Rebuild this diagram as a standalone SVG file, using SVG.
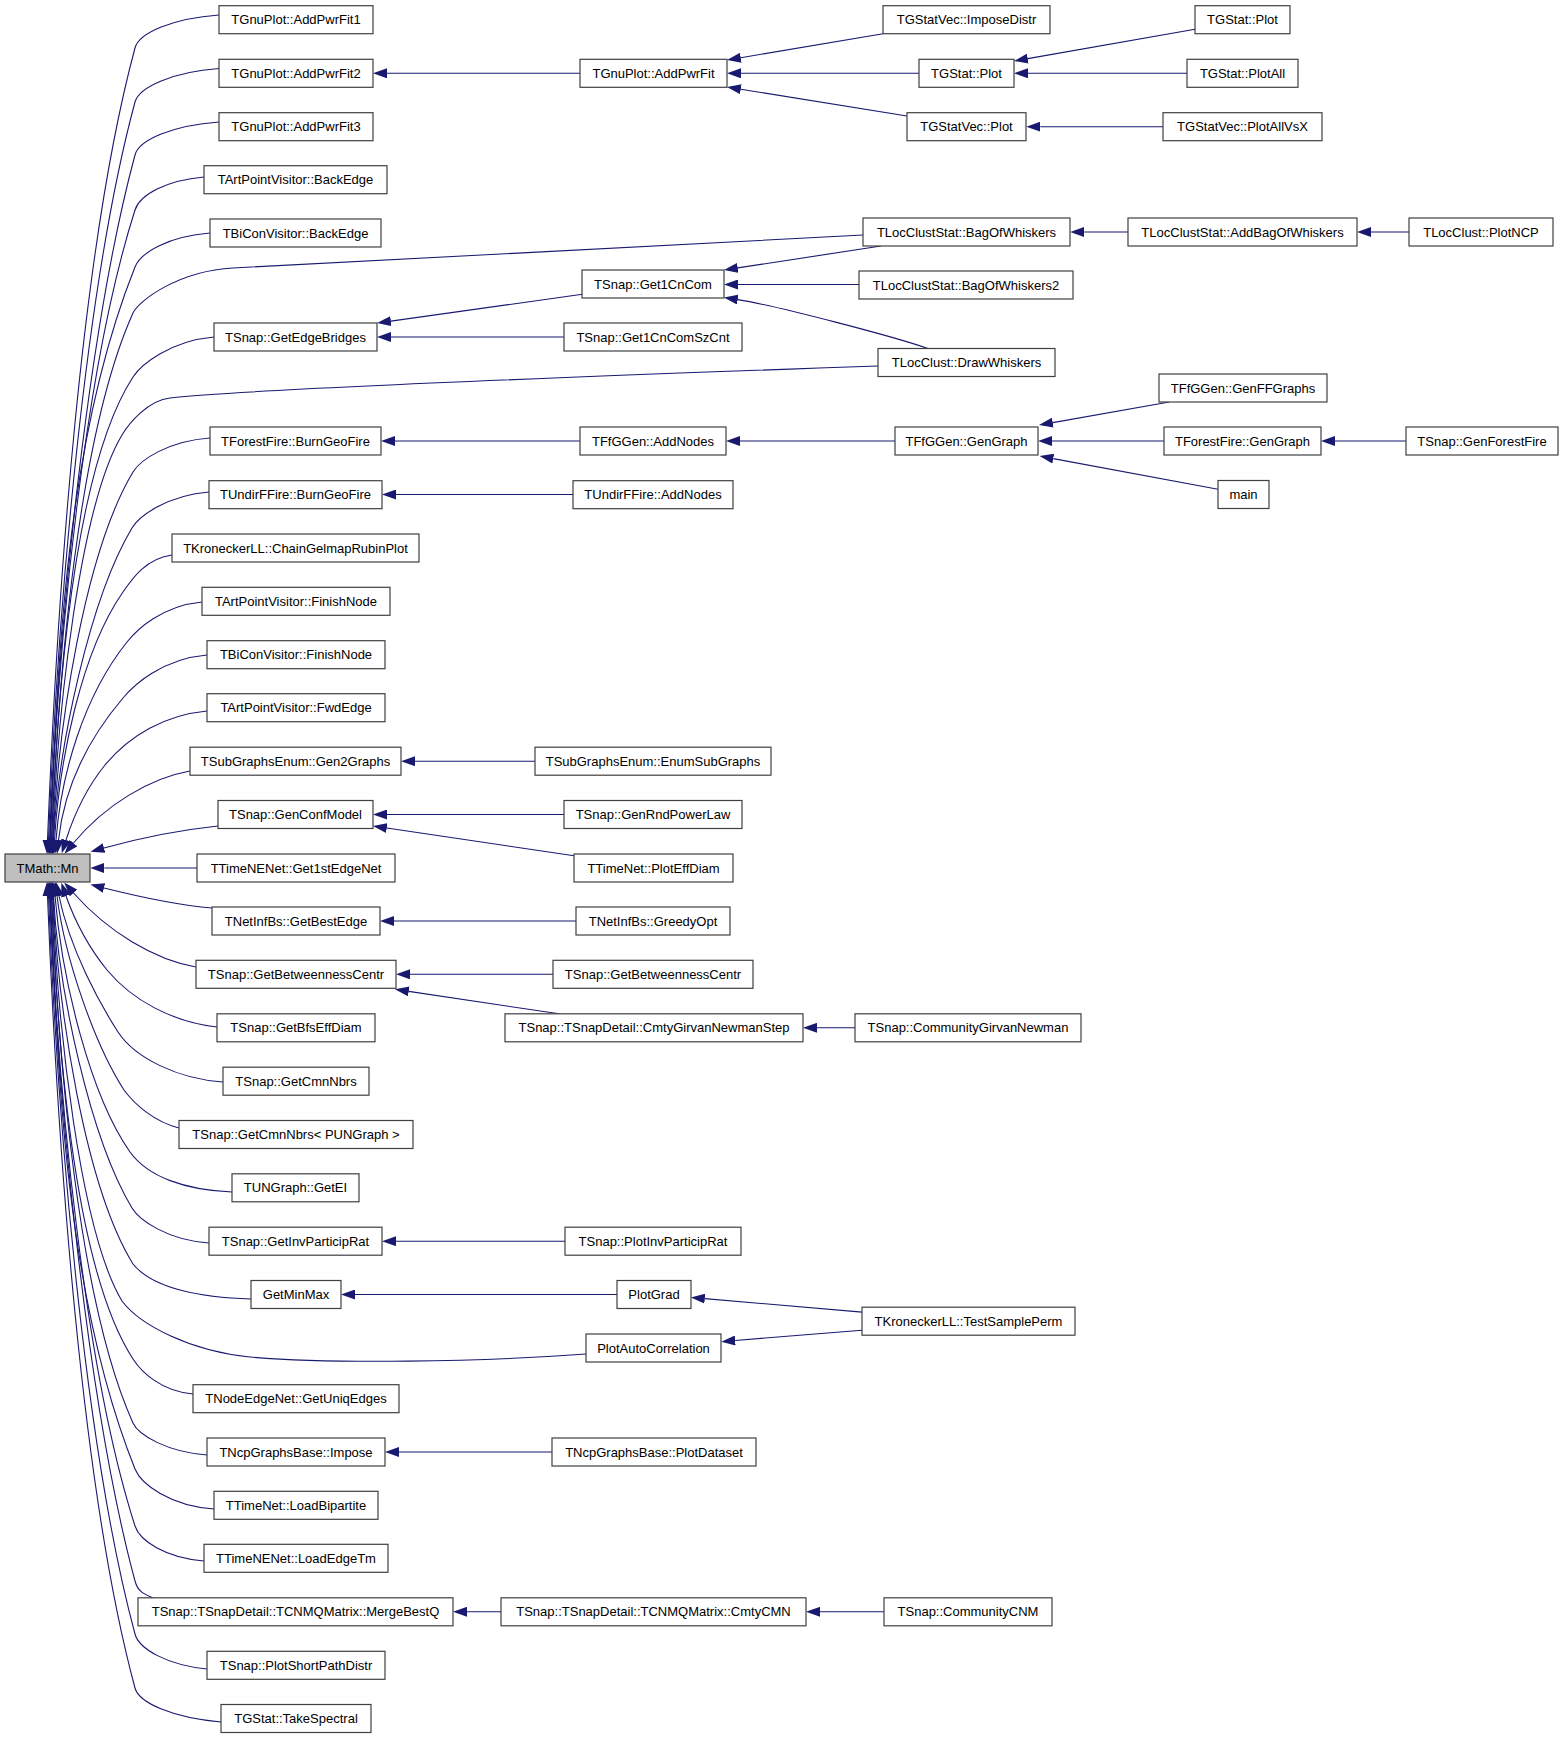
<svg xmlns="http://www.w3.org/2000/svg" width="1563" height="1739" viewBox="0 0 1563 1739">
<defs>
<style>
.node rect{fill:#ffffff;stroke:#404040;stroke-width:1.2}
.node text{font-family:"Liberation Sans",Arial,Helvetica,sans-serif;font-size:13px;text-anchor:middle;fill:#000000}
#n1 rect{fill:#bfbfbf}
.edges path{fill:none;stroke:#191970;stroke-width:1.1;marker-end:url(#arr)}
</style>
<marker id="arr" viewBox="0 0 14 10" refX="0" refY="5" markerWidth="14" markerHeight="10" markerUnits="userSpaceOnUse" orient="auto">
<path d="M0,0 L14,5 L0,10 Z" fill="#191970"/>
</marker>
</defs>
<rect x="0" y="0" width="1563" height="1739" fill="#ffffff"/>
<g class="edges">
<path d="M219,15 C172.8,18.3 139,33 135,48 C81.5,246 57.6,586.6 47.5,840"/>
<path d="M219,68.5 C172.8,71.9 139,87 135,102 C85.2,286.5 57.9,603.8 48.5,840"/>
<path d="M219,122 C172.8,125.3 139,140 135,155 C88.8,326.3 58.3,620.8 49.5,840"/>
<path d="M204,177 C166,180.3 139.8,195 135,210 C84.6,367.5 58.1,638.4 50,840"/>
<path d="M210,233 C168.8,236.4 141,252 135,267 C66.2,439 57.8,656.6 50.5,840"/>
<path d="M863,235 C700,244 420,258 233,268 C178,271 138.4,301 133,313 C79,433 58.5,670 51.5,840"/>
<path d="M214,337 C169.5,341 140.8,365 133,377 C74.5,467 57.5,690 51.5,840"/>
<path d="M878,366 C650,374 260,388 170,398 C148,400.4 129.2,423 122,435 C80,505 57.5,710 52.5,840"/>
<path d="M210,438 C168,441 140.2,460 133,472 C85,552 58,725 53,840"/>
<path d="M209,492 C167,495.5 139.2,516 132,528 C90,598 58.5,745 53.5,840"/>
<path d="M172,555 C145,558.7 131.4,580 123,592 C81,652 59.5,760 54.5,840"/>
<path d="M202,602 C161,606 136.6,630 127,642 C83,697 61,775 56,840"/>
<path d="M207,655 C161,659 133,686 123,698 C84.8,743 64,790 58.5,840"/>
<path d="M207,711 C165,715 130,735 105,765 C88,786 75,812 66,840"/>
<path d="M190,771 C150,778 105,805 73.5,843"/>
<path d="M218,826 C180,830 140,838 104,848"/>
<path d="M197,868 L104.3,868"/>
<path d="M212,908 C176,905 140,897 104,888"/>
<path d="M196,967 C155,960 108,932 73.5,893"/>
<path d="M217,1027 C172,1022 132,1000 107,970 C90,949 76,924 66,896"/>
<path d="M223,1082 C178,1079 135,1058 118,1032 C100,1004 70,950 59,896"/>
<path d="M179,1128 C155,1122 135,1105 124,1090 C95,1045 65,960 57,896"/>
<path d="M232,1192 C185,1190 148,1177 130,1152 C90,1095 62,980 55,896"/>
<path d="M209,1243 C167,1240 139.2,1220 132,1208 C90,1138 58.5,991 53.5,896"/>
<path d="M251,1299 C190,1297 150,1285 133,1264 C85,1186 58,1011 53,896"/>
<path d="M586,1354 C480,1362 330,1364 250,1357 C190,1351 140,1325 122,1301 C80,1231 57.5,1026 52.5,896"/>
<path d="M193,1394 C160,1391 140.8,1371 133,1359 C74.5,1269 57.5,1046 51.5,896"/>
<path d="M207,1455 C167,1452 138.4,1435 133,1423 C79,1303 58.5,1066 51.5,896"/>
<path d="M214,1509 C170,1506 141,1484 135,1469 C66.2,1297 57.8,1079.4 50.5,896"/>
<path d="M204,1561 C166,1558 139.8,1541 135,1526 C84.6,1368.5 58.1,1097.6 50,896"/>
<path d="M153,1598 C144,1594 138,1592 135,1581 C88.8,1409.7 58.3,1115.2 49.5,896"/>
<path d="M207,1669 C167,1665 139,1649 135,1634 C85.2,1449.5 57.9,1132.2 48.5,896"/>
<path d="M221,1722 C172.8,1717.7 139,1703 135,1688 C81.5,1490 57.6,1149.4 47.5,896"/>
<path d="M580,73.3 L387,73.3"/>
<path d="M883,33.7 L740.8,57.7"/>
<path d="M919,73.3 L741,73.3"/>
<path d="M907,116 L740.8,89.2"/>
<path d="M1195,29.3 L1027.8,58.6"/>
<path d="M1187,73.3 L1028,73.3"/>
<path d="M1163,126.7 L1040.3,126.7"/>
<path d="M1128,232 L1084.3,232"/>
<path d="M1409,232 L1371,232"/>
<path d="M881,246 L737.8,267.9"/>
<path d="M859,284.5 L738,284.5"/>
<path d="M928,348.5 C895,337 778,306 737.8,299.6"/>
<path d="M582.3,294.3 L390.9,321.1"/>
<path d="M564,337 L391,337"/>
<path d="M580,441 L395,441"/>
<path d="M895,441 L740,441"/>
<path d="M1169.3,402 L1052.8,422.6"/>
<path d="M1164,441 L1052,441"/>
<path d="M1218,489.3 L1053.3,458.6"/>
<path d="M1406,441 L1335,441"/>
<path d="M573,494.5 L396,494.5"/>
<path d="M535,761.2 L415,761.2"/>
<path d="M564,814.5 L387,814.5"/>
<path d="M574,855.7 L386.8,828"/>
<path d="M576,921 L394,921"/>
<path d="M553,974.3 L410,974.3"/>
<path d="M559,1013.8 L408.8,991.4"/>
<path d="M855,1027.8 L817,1027.8"/>
<path d="M565,1241.2 L396,1241.2"/>
<path d="M617,1294.5 L355,1294.5"/>
<path d="M862,1312.1 L704.8,1298.6"/>
<path d="M862,1330.2 L735.2,1340.5"/>
<path d="M552,1452 L399,1452"/>
<path d="M501,1611.8 L467,1611.8"/>
<path d="M884,1611.8 L820,1611.8"/>
</g>
<g id="n1" class="node"><rect x="5" y="854" width="85" height="28"/><text x="47.5" y="872.5">TMath::Mn</text></g>
<g id="n2" class="node"><rect x="219" y="5.7" width="154" height="28"/><text x="296" y="24.2">TGnuPlot::AddPwrFit1</text></g>
<g id="n3" class="node"><rect x="219" y="59.3" width="154" height="28"/><text x="296" y="77.8">TGnuPlot::AddPwrFit2</text></g>
<g id="n4" class="node"><rect x="219" y="112.7" width="154" height="28"/><text x="296" y="131.2">TGnuPlot::AddPwrFit3</text></g>
<g id="n5" class="node"><rect x="204" y="165.7" width="183" height="28"/><text x="295.5" y="184.2">TArtPointVisitor::BackEdge</text></g>
<g id="n6" class="node"><rect x="210" y="219" width="171" height="28"/><text x="295.5" y="237.5">TBiConVisitor::BackEdge</text></g>
<g id="n7" class="node"><rect x="214" y="323" width="163" height="28"/><text x="295.5" y="341.5">TSnap::GetEdgeBridges</text></g>
<g id="n8" class="node"><rect x="210" y="427" width="171" height="28"/><text x="295.5" y="445.5">TForestFire::BurnGeoFire</text></g>
<g id="n9" class="node"><rect x="209" y="480.7" width="173" height="28"/><text x="295.5" y="499.2">TUndirFFire::BurnGeoFire</text></g>
<g id="n10" class="node"><rect x="172" y="534" width="247" height="28"/><text x="295.5" y="552.5">TKroneckerLL::ChainGelmapRubinPlot</text></g>
<g id="n11" class="node"><rect x="202" y="587.3" width="188" height="28"/><text x="296" y="605.8">TArtPointVisitor::FinishNode</text></g>
<g id="n12" class="node"><rect x="207" y="640.7" width="178" height="28"/><text x="296" y="659.2">TBiConVisitor::FinishNode</text></g>
<g id="n13" class="node"><rect x="207" y="693.7" width="178" height="28"/><text x="296" y="712.2">TArtPointVisitor::FwdEdge</text></g>
<g id="n14" class="node"><rect x="190" y="747.2" width="211" height="28"/><text x="295.5" y="765.7">TSubGraphsEnum::Gen2Graphs</text></g>
<g id="n15" class="node"><rect x="218" y="800.5" width="155" height="28"/><text x="295.5" y="819">TSnap::GenConfModel</text></g>
<g id="n16" class="node"><rect x="197" y="854" width="198" height="28"/><text x="296" y="872.5">TTimeNENet::Get1stEdgeNet</text></g>
<g id="n17" class="node"><rect x="212" y="907" width="168" height="28"/><text x="296" y="925.5">TNetInfBs::GetBestEdge</text></g>
<g id="n18" class="node"><rect x="196" y="960.3" width="200" height="28"/><text x="296" y="978.8">TSnap::GetBetweennessCentr</text></g>
<g id="n19" class="node"><rect x="217" y="1013.8" width="158" height="28"/><text x="296" y="1032.3">TSnap::GetBfsEffDiam</text></g>
<g id="n20" class="node"><rect x="223" y="1067.2" width="146" height="28"/><text x="296" y="1085.7">TSnap::GetCmnNbrs</text></g>
<g id="n21" class="node"><rect x="179" y="1120.5" width="234" height="28"/><text x="296" y="1139">TSnap::GetCmnNbrs&lt; PUNGraph &gt;</text></g>
<g id="n22" class="node"><rect x="232" y="1173.8" width="127" height="28"/><text x="295.5" y="1192.3">TUNGraph::GetEI</text></g>
<g id="n23" class="node"><rect x="209" y="1227.2" width="173" height="28"/><text x="295.5" y="1245.7">TSnap::GetInvParticipRat</text></g>
<g id="n24" class="node"><rect x="251" y="1280.5" width="90" height="28"/><text x="296" y="1299">GetMinMax</text></g>
<g id="n25" class="node"><rect x="193" y="1384.7" width="206" height="28"/><text x="296" y="1403.2">TNodeEdgeNet::GetUniqEdges</text></g>
<g id="n26" class="node"><rect x="207" y="1438" width="178" height="28"/><text x="296" y="1456.5">TNcpGraphsBase::Impose</text></g>
<g id="n27" class="node"><rect x="214" y="1491.3" width="164" height="28"/><text x="296" y="1509.8">TTimeNet::LoadBipartite</text></g>
<g id="n28" class="node"><rect x="204" y="1544.3" width="184" height="28"/><text x="296" y="1562.8">TTimeNENet::LoadEdgeTm</text></g>
<g id="n29" class="node"><rect x="138" y="1597.8" width="315" height="28"/><text x="295.5" y="1616.3">TSnap::TSnapDetail::TCNMQMatrix::MergeBestQ</text></g>
<g id="n30" class="node"><rect x="207" y="1651.3" width="178" height="28"/><text x="296" y="1669.8">TSnap::PlotShortPathDistr</text></g>
<g id="n31" class="node"><rect x="221" y="1704.5" width="150" height="28"/><text x="296" y="1723">TGStat::TakeSpectral</text></g>
<g id="n32" class="node"><rect x="580" y="59.3" width="147" height="28"/><text x="653.5" y="77.8">TGnuPlot::AddPwrFit</text></g>
<g id="n33" class="node"><rect x="582" y="270" width="142" height="28"/><text x="653" y="288.5">TSnap::Get1CnCom</text></g>
<g id="n34" class="node"><rect x="564" y="323" width="178" height="28"/><text x="653" y="341.5">TSnap::Get1CnComSzCnt</text></g>
<g id="n35" class="node"><rect x="580" y="427" width="146" height="28"/><text x="653" y="445.5">TFfGGen::AddNodes</text></g>
<g id="n36" class="node"><rect x="573" y="480.7" width="160" height="28"/><text x="653" y="499.2">TUndirFFire::AddNodes</text></g>
<g id="n37" class="node"><rect x="535" y="747.2" width="236" height="28"/><text x="653" y="765.7">TSubGraphsEnum::EnumSubGraphs</text></g>
<g id="n38" class="node"><rect x="564" y="800.5" width="178" height="28"/><text x="653" y="819">TSnap::GenRndPowerLaw</text></g>
<g id="n39" class="node"><rect x="574" y="854" width="159" height="28"/><text x="653.5" y="872.5">TTimeNet::PlotEffDiam</text></g>
<g id="n40" class="node"><rect x="576" y="907" width="154" height="28"/><text x="653" y="925.5">TNetInfBs::GreedyOpt</text></g>
<g id="n41" class="node"><rect x="553" y="960.3" width="200" height="28"/><text x="653" y="978.8">TSnap::GetBetweennessCentr</text></g>
<g id="n42" class="node"><rect x="505" y="1013.8" width="298" height="28"/><text x="654" y="1032.3">TSnap::TSnapDetail::CmtyGirvanNewmanStep</text></g>
<g id="n43" class="node"><rect x="565" y="1227.2" width="176" height="28"/><text x="653" y="1245.7">TSnap::PlotInvParticipRat</text></g>
<g id="n44" class="node"><rect x="617" y="1280.5" width="74" height="28"/><text x="654" y="1299">PlotGrad</text></g>
<g id="n45" class="node"><rect x="586" y="1334" width="135" height="28"/><text x="653.5" y="1352.5">PlotAutoCorrelation</text></g>
<g id="n46" class="node"><rect x="552" y="1438" width="204" height="28"/><text x="654" y="1456.5">TNcpGraphsBase::PlotDataset</text></g>
<g id="n47" class="node"><rect x="501" y="1597.8" width="305" height="28"/><text x="653.5" y="1616.3">TSnap::TSnapDetail::TCNMQMatrix::CmtyCMN</text></g>
<g id="n48" class="node"><rect x="883" y="5.7" width="167" height="28"/><text x="966.5" y="24.2">TGStatVec::ImposeDistr</text></g>
<g id="n49" class="node"><rect x="919" y="59.3" width="95" height="28"/><text x="966.5" y="77.8">TGStat::Plot</text></g>
<g id="n50" class="node"><rect x="907" y="112.7" width="119" height="28"/><text x="966.5" y="131.2">TGStatVec::Plot</text></g>
<g id="n51" class="node"><rect x="863" y="218" width="207" height="28"/><text x="966.5" y="236.5">TLocClustStat::BagOfWhiskers</text></g>
<g id="n52" class="node"><rect x="859" y="271" width="214" height="28"/><text x="966" y="289.5">TLocClustStat::BagOfWhiskers2</text></g>
<g id="n53" class="node"><rect x="878" y="348.5" width="177" height="28"/><text x="966.5" y="367">TLocClust::DrawWhiskers</text></g>
<g id="n54" class="node"><rect x="895" y="427" width="143" height="28"/><text x="966.5" y="445.5">TFfGGen::GenGraph</text></g>
<g id="n55" class="node"><rect x="855" y="1013.8" width="226" height="28"/><text x="968" y="1032.3">TSnap::CommunityGirvanNewman</text></g>
<g id="n56" class="node"><rect x="862" y="1307.2" width="213" height="28"/><text x="968.5" y="1325.7">TKroneckerLL::TestSamplePerm</text></g>
<g id="n57" class="node"><rect x="884" y="1597.8" width="168" height="28"/><text x="968" y="1616.3">TSnap::CommunityCNM</text></g>
<g id="n58" class="node"><rect x="1195" y="5.7" width="95" height="28"/><text x="1242.5" y="24.2">TGStat::Plot</text></g>
<g id="n59" class="node"><rect x="1187" y="59.3" width="111" height="28"/><text x="1242.5" y="77.8">TGStat::PlotAll</text></g>
<g id="n60" class="node"><rect x="1163" y="112.7" width="159" height="28"/><text x="1242.5" y="131.2">TGStatVec::PlotAllVsX</text></g>
<g id="n61" class="node"><rect x="1128" y="218" width="229" height="28"/><text x="1242.5" y="236.5">TLocClustStat::AddBagOfWhiskers</text></g>
<g id="n62" class="node"><rect x="1159" y="374" width="168" height="28"/><text x="1243" y="392.5">TFfGGen::GenFFGraphs</text></g>
<g id="n63" class="node"><rect x="1164" y="427" width="157" height="28"/><text x="1242.5" y="445.5">TForestFire::GenGraph</text></g>
<g id="n64" class="node"><rect x="1218" y="480.5" width="51" height="28"/><text x="1243.5" y="499">main</text></g>
<g id="n65" class="node"><rect x="1409" y="218" width="144" height="28"/><text x="1481" y="236.5">TLocClust::PlotNCP</text></g>
<g id="n66" class="node"><rect x="1406" y="427" width="152" height="28"/><text x="1482" y="445.5">TSnap::GenForestFire</text></g>
</svg>
